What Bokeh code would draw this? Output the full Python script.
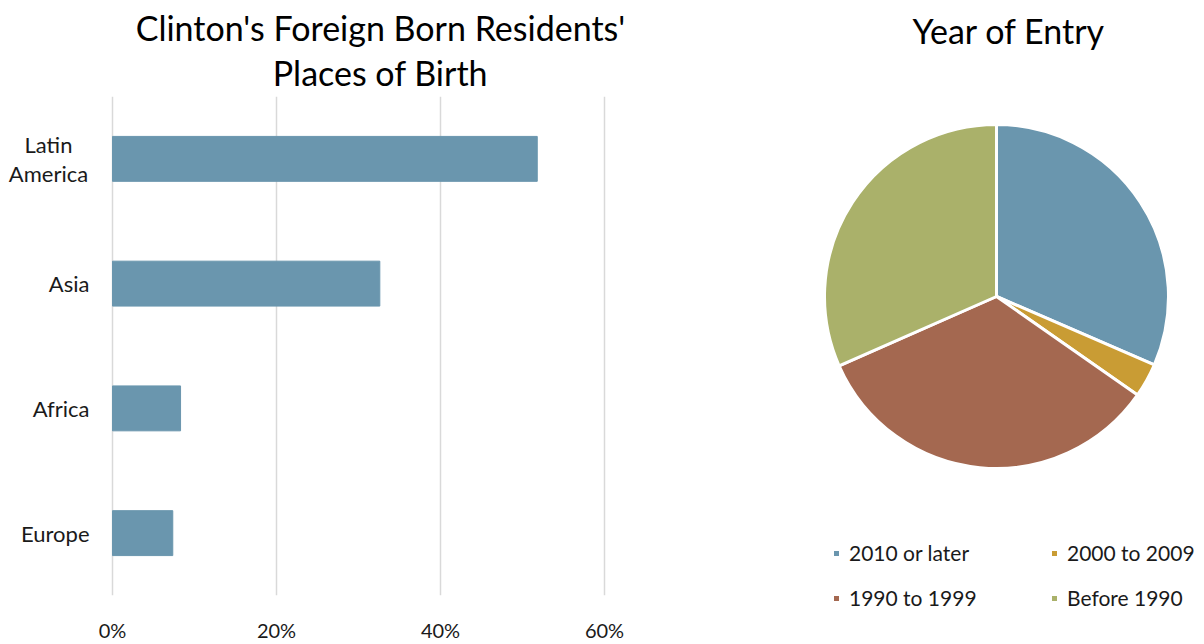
from bokeh.plotting import figure
from bokeh.models import (Range1d, FactorRange, FixedTicker, NumeralTickFormatter,
                          Title, Legend, LegendItem, ColumnDataSource)
from bokeh.core.properties import value
from bokeh.layouts import row, column
from bokeh.embed import file_html
from bokeh.resources import INLINE
import numpy as np

FONT = "Lato"

# ---- data ----
regions = ["Latin America", "Asia", "Africa", "Europe"]
region_labels = ["Latin\nAmerica", "Asia", "Africa", "Europe"]
region_share = [51.8, 32.6, 8.3, 7.35]          # percent of foreign born
x_ticks = [0, 20, 40, 60]

entry_periods = ["2010 or later", "2000 to 2009", "1990 to 1999", "Before 1990"]
entry_share = [31.5, 3.2, 33.7, 31.6]           # percent
entry_colors = ["#6A96AE", "#C99C34", "#A46850", "#AAB16A"]

BAR_COLOR = "#6A96AE"
GRID = "#D9D9D9"
TXT = "#1A1A1A"

H = 644

# ---- bar chart ----
W1 = 760
px = 0.6 / 492          # data units per pixel
p = figure(width=W1, height=H, output_backend="svg", toolbar_location=None,
           y_range=FactorRange(factors=regions[::-1]),
           x_range=Range1d(-112 * px, (W1 - 112) * px),
           y_axis_location=None,
           min_border_left=0, min_border_right=0, min_border_top=96,
           min_border_bottom=46)
p.hbar(y=regions, right=[v / 100 for v in region_share], height=0.36,
       color=BAR_COLOR)
lab_src = ColumnDataSource(dict(
    y=regions, text=region_labels,
    align=["center" if "\n" in t else "right" for t in region_labels],
    off=[-64 if "\n" in t else -23 for t in region_labels]))
p.text(x=0, y="y", text="text", source=lab_src, x_offset="off",
       text_align="align", text_baseline="middle", text_font=value(FONT),
       text_font_size="22px", text_color=TXT, text_line_height=1.1)
p.outline_line_color = None
p.ygrid.grid_line_color = None
p.xgrid.grid_line_color = GRID
p.xgrid.grid_line_width = 1.5
p.xaxis.ticker = FixedTicker(ticks=[t / 100 for t in x_ticks])
p.xaxis.formatter = NumeralTickFormatter(format="0%")
ax = p.xaxis[0]
ax.axis_line_color = None
ax.major_tick_line_color = None
ax.minor_tick_line_color = None
ax.major_tick_out = 0
ax.major_tick_in = 0
ax.major_label_text_font = FONT
ax.major_label_text_font_size = "20px"
ax.major_label_text_color = TXT
ax.major_label_standoff = 22

p.add_layout(Title(text="Places of Birth", align="center", text_font=FONT,
                   text_font_size="34px", text_font_style="normal",
                   text_color="#000000", standoff=7), "above")
p.add_layout(Title(text="Clinton's Foreign Born Residents'", align="center",
                   text_font=FONT, text_font_size="34px",
                   text_font_style="normal", text_color="#000000",
                   standoff=-3), "above")

# ---- pie chart ----
W2 = 444
TOP2 = 48
FH = H - TOP2
q = figure(width=W2, height=H, output_backend="svg", toolbar_location=None,
           x_range=Range1d(0, W2), y_range=Range1d(0, FH),
           x_axis_location=None, y_axis_location=None,
           min_border_left=0, min_border_right=0, min_border_top=TOP2,
           min_border_bottom=0)
q.outline_line_color = None
q.grid.grid_line_color = None

frac = np.array(entry_share) / sum(entry_share)
cum = np.concatenate([[0], np.cumsum(frac)])
start = np.pi / 2 - 2 * np.pi * cum[:-1]
end = np.pi / 2 - 2 * np.pi * cum[1:]
cx, cy, r = 236, 348, 172
renderers = []
for i in range(len(entry_periods)):
    rr = q.wedge(x=cx, y=cy, radius=r, start_angle=start[i], end_angle=end[i],
                 direction="clock", fill_color=entry_colors[i],
                 line_color="white", line_width=3)
    renderers.append(rr)

order = [0, 2, 1, 3]   # legend fills column by column
items = [LegendItem(label=entry_periods[i], renderers=[renderers[i]])
         for i in order]
leg = Legend(items=items, ncols=2, location=(71, 34),
             glyph_width=10, glyph_height=10, label_standoff=8,
             label_width=180, label_height=20, spacing=20, padding=0, margin=0,
             border_line_color=None, background_fill_alpha=0,
             label_text_font=FONT, label_text_font_size="21px",
             label_text_color=TXT)
q.add_layout(leg, "center")

q.add_layout(Title(text="Year of Entry", align="left", offset=152,
                   text_font=FONT, text_font_size="34px",
                   text_font_style="normal", text_color="#000000",
                   standoff=-5), "above")

layout = row(column(p), column(q))
open("out.html", "w").write(file_html(layout, INLINE))
